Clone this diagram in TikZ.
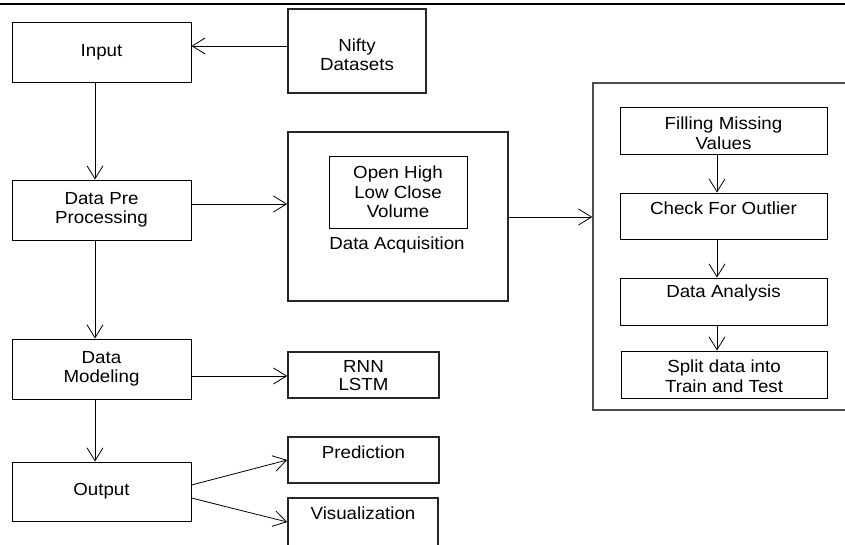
\documentclass[tikz,border=0pt]{standalone}
\usepackage{fontspec}
\setmainfont{Liberation Sans}[FakeStretch=1.07]
\usetikzlibrary{arrows.meta}
\begin{document}
\begin{tikzpicture}[x=1pt,y=-1pt,
  font=\fontsize{17.5}{19.5}\selectfont,
  thinbox/.style={draw, line width=0.9pt, inner sep=0pt, align=center},
  thickbox/.style={draw, line width=1.6pt, inner sep=0pt, align=center, draw=black!85},
  bigbox/.style={draw, line width=1.5pt, draw=black!70, inner sep=0pt},
  txt/.style={align=center, inner sep=0pt},
  arr/.style={-{Straight Barb[length=13pt,width=16pt]}, line width=0.8pt},
]
\useasboundingbox (0,0) rectangle (845,545);
\clip (0,0) rectangle (845,545);
\draw[line width=2pt] (0,4) -- (845,4);

% left column
\node[thinbox, minimum width=179pt, minimum height=60pt] (input) at (101.5,52) {Input};
\node[thinbox, minimum width=179pt, minimum height=60pt] (dpp) at (101.5,210) {Data Pre\\Processing};
\node[thinbox, minimum width=179pt, minimum height=60pt] (dm) at (101.5,369) {Data\\Modeling};
\node[thinbox, minimum width=179pt, minimum height=59pt] (out) at (101.5,491.5) {Output};

% middle column
\node[thickbox, minimum width=138pt, minimum height=84pt] (nifty) at (357,51) {};
\node[txt] (niftyt) at (357,54.5) {Nifty\\Datasets};
\node[thickbox, minimum width=220pt, minimum height=169pt] (da) at (398,216.5) {};
\node[thinbox, minimum width=138pt, minimum height=72pt] (ohlc) at (398,192) {Open High\\Low Close\\Volume};
\node[txt] (dal) at (397,245) {Data Acquisition};
\node[thickbox, minimum width=151pt, minimum height=46pt] (rnn) at (363.5,375) {};
\node[txt, font=\fontsize{17.5}{17.5}\selectfont] (rnnt) at (363.5,375.5) {RNN\\LSTM};
\node[thickbox, minimum width=151pt, minimum height=46pt] (pred) at (363.5,460) {};
\node[txt] (predt) at (363.5,452.7) {Prediction};
\node[thickbox, minimum width=150pt, minimum height=49pt] (vis) at (363,522.5) {};
\node[txt] (vist) at (363,513) {Visualization};

% right column
\node[bigbox, minimum width=257pt, minimum height=327pt] (big) at (721.5,246.5) {};
\node[thinbox, minimum width=207pt, minimum height=47pt] (fill) at (723.5,130.5) {};
\node[txt] (fillt) at (723.5,133) {Filling Missing\\Values};
\node[thinbox, minimum width=207pt, minimum height=46pt] (check) at (723.5,216) {};
\node[txt] (checkt) at (723.5,208) {Check For Outlier};
\node[thinbox, minimum width=207pt, minimum height=47pt] (ana) at (723.5,301.5) {};
\node[txt] (anat) at (723.5,293) {Data Analysis};
\node[thinbox, minimum width=206pt, minimum height=47pt] (split) at (724,374.5) {};
\node[txt] (splitt) at (724,376) {Split data into\\Train and Test};

% connectors
\draw[arr] (nifty.west |- 0,46) -- (input.east |- 0,46);
\draw[arr] (input.south -| 95,0) -- (dpp.north -| 95,0);
\draw[arr] (dpp.south -| 95,0) -- (dm.north -| 95,0);
\draw[arr] (dm.south -| 95,0) -- (out.north -| 95,0);
\draw[arr] (dpp.east |- 0,204) -- (da.west |- 0,204);
\draw[arr] (da.east |- 0,217) -- (big.west |- 0,217);
\draw[arr] (dm.east |- 0,376) -- (rnn.west |- 0,376);
\draw[arr] (out.east |- 0,485) -- (pred.west |- 0,460);
\draw[arr] (out.east |- 0,498) -- (vis.west |- 0,522);
\draw[arr] (fill.south -| 717,0) -- (check.north -| 717,0);
\draw[arr] (check.south -| 717,0) -- (ana.north -| 717,0);
\draw[arr] (ana.south -| 717,0) -- (split.north -| 717,0);
\end{tikzpicture}
\end{document}
